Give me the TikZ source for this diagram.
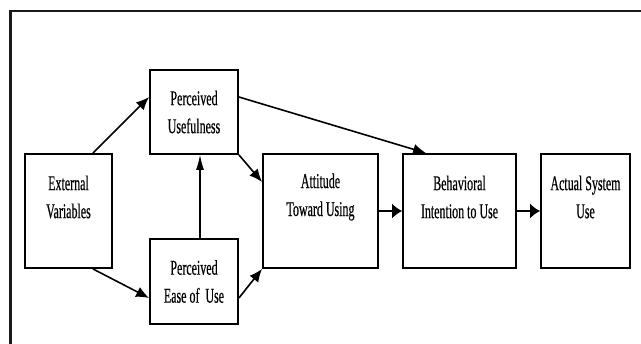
\documentclass[tikz,border=0pt]{standalone}
\usepackage{fontspec}
\setmainfont[FakeStretch=0.57,FakeBold=0.4]{Liberation Serif}
\usetikzlibrary{arrows.meta,calc}
\begin{document}
\begin{tikzpicture}[x=1pt,y=-1pt,
  box/.style={draw=black,line width=1.8pt,fill=white,rectangle,inner sep=0pt},
  txt/.style={align=center,font=\fontsize{21}{28}\selectfont,inner sep=0pt,text=black},
  arr/.style={line width=1.6pt,-{Latex[length=10pt,width=15pt]}},
  arrv/.style={line width=1.1pt,-{Latex[length=15pt,width=8pt]}},
  arrd/.style={line width=1.6pt,-{Latex[length=13pt,width=11pt]}}]
\useasboundingbox (0,0) rectangle (641,344);
\clip (0,0) rectangle (641,344);
\fill[white] (0,0) rectangle (641,344);
\draw[line width=2.2pt,black!90] (10.5,11) rectangle (660,370);
% boxes
\node[box,minimum width=87pt,minimum height=114pt] (ext) at (68.5,211) {};
\node[box,minimum width=88pt,minimum height=84pt] (pu) at (194,112) {};
\node[box,minimum width=88pt,minimum height=85pt] (peou) at (194,281.5) {};
\node[box,minimum width=115pt,minimum height=114pt] (att) at (320.5,211) {};
\node[box,minimum width=113pt,minimum height=114pt] (bi) at (459.5,211) {};
\node[box,minimum width=89pt,minimum height=114pt] (asu) at (585.5,211) {};
% texts
\node[txt] (ext-t) at ([yshift=14pt]ext.center) {External\\Variables};
\node[txt] (pu-t) at (pu.center) {Perceived\\Usefulness};
\node[txt] (peou-t) at (peou.center) {Perceived\\Ease of\ \ Use};
\node[txt] (att-t) at ([yshift=14pt]att.center) {Attitude\\Toward Using};
\node[txt] (bi-t) at ([yshift=14pt]bi.center) {Behavioral\\Intention to Use};
\node[txt] (asu-t) at ([yshift=14pt]asu.center) {Actual System\\Use};
% arrows
\draw[arrd] ([xshift=-20pt]ext.north east) -- ([yshift=15pt]pu.west);
\draw[arrd] ([xshift=-20pt]ext.south east) -- ([yshift=-16.5pt]peou.west);
\draw[arrv] ([xshift=6pt]peou.north) -- ([xshift=6pt]pu.south);
\draw[arrd] (pu.south east) -- ([yshift=29pt]att.west);
\draw[arrd] ([yshift=-16.5pt]peou.east) -- (att.south west);
\draw[arrd] ([yshift=15pt]pu.east) -- ([xshift=24pt]bi.north west);
\draw[arr] (att.east) -- (bi.west);
\draw[arr] (bi.east) -- (asu.west);
\end{tikzpicture}
\end{document}
